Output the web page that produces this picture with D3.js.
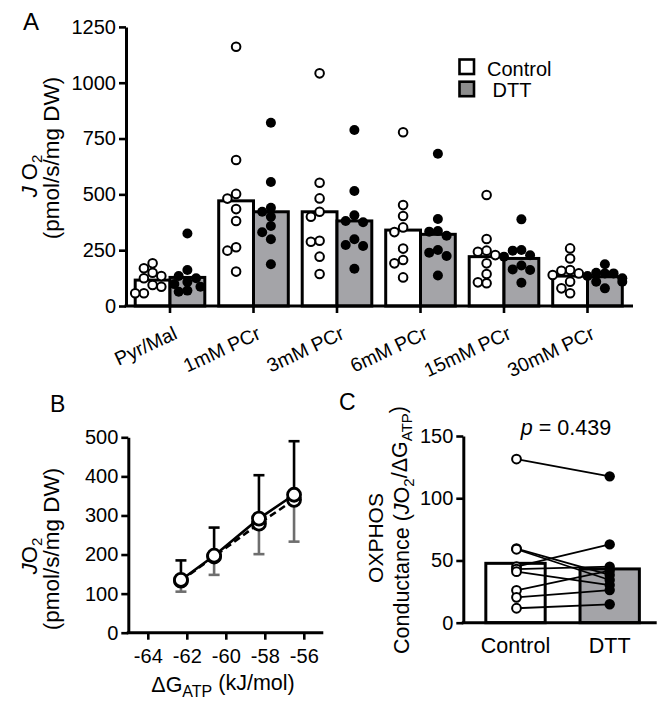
<!DOCTYPE html>
<html><head><meta charset="utf-8">
<script src="https://cdn.jsdelivr.net/npm/d3@7"></script>
<style>
body{margin:0;background:#fff}
svg text{font-family:"Liberation Sans",Arial,Helvetica,sans-serif;fill:#000}
</style>
</head><body>
<svg id="chart" width="670" height="703"></svg>
<script>
// ---------- Data ----------
const categories = ["Pyr/Mal","1mM PCr","3mM PCr","6mM PCr","15mM PCr","30mM PCr"];
const groups = ["Control","DTT"];
const controlMeans = [116,471,422,340,221,134];
const dttMeans = [128,422,381,321,213,131];
const controlPoints = [
  [191,169,149,134,124,94,86,57,57],
  [1161,654,502,481,434,381,263,248,154],
  [1042,552,482,422,400,292,288,221,143],
  [778,452,403,352,331,257,206,191,128],
  [497,300,248,243,228,191,143,106,102],
  [258,213,161,158,146,139,109,79,57]
];
const dttPoints = [
  [325,161,134,124,108,98,86,69,64],
  [821,555,440,422,400,358,330,299,187],
  [788,515,406,381,375,299,273,269,167],
  [682,390,336,333,315,251,239,224,137],
  [388,251,248,227,221,181,164,161,104],
  [187,149,146,146,134,124,109,109,79]
];
const yTicksA = [0,250,500,750,1000,1250];

const dgAtp = [-62.3,-60.6,-58.3,-56.5];
const bControlMean = [135,197,292,353];
const bControlSD = [50,72,111,137];
const bDttMean = [133,195,279,340];
const bDttSD = [28,47,78,107];
const xTicksB = [-64,-62,-60,-58,-56];
const yTicksB = [0,100,200,300,400,500];

const condMeans = [47.7,43.2];
const condControl = [131.5,59.5,59,45,43,41,26,20.4,11.6];
const condDtt = [117.6,38.4,34.3,62.9,45,30.2,41.8,26.2,14.8];
const yTicksC = [0,50,100,150];
const pText = "0.439";

// ---------- Styles ----------
const BAR_GRAY = "#a4a4a8";
const LEG_GRAY = "#8c8c8c";
const TICK_FS = 20;
const svg = d3.select("#chart");

function styleAxis(g, fs){
  g.selectAll(".domain").attr("stroke","#000").attr("stroke-width",3);
  g.selectAll(".tick line").attr("stroke","#000").attr("stroke-width",2.6);
  g.selectAll(".tick text").attr("font-size",fs).attr("fill","#000")
    .attr("font-family","'Liberation Sans',Arial,sans-serif");
}

function swarm(values, cx, yScale, step, D){
  const placed = [];
  const sorted = values.slice().sort((a,b)=>b-a);
  const offs = [0,-1,1,-1.5,1.5,-2,2];
  sorted.forEach(v=>{
    const y = yScale(v);
    for (const o of offs){
      const x = cx + o*step;
      if (placed.every(p => Math.hypot(p.x-x,p.y-y) >= D) || o===2){ placed.push({x,y,v}); break; }
    }
  });
  return placed;
}

// ---------- Panel A ----------
const yA = d3.scaleLinear().domain([0,1250]).range([306,26.9]);
const xA = d3.scaleBand().domain(categories).range([128.25,629.25]);
const xSub = d3.scaleBand().domain(groups).range([0,xA.bandwidth()]).paddingOuter(0.2);

const gA = svg.append("g");
categories.forEach((c,i)=>{
  [controlMeans[i], dttMeans[i]].forEach((m,j)=>{
    gA.append("rect")
      .attr("x", xA(c)+xSub(groups[j]))
      .attr("y", yA(m))
      .attr("width", xSub.bandwidth())
      .attr("height", yA(0)-yA(m))
      .attr("fill", j===0 ? "#fff" : BAR_GRAY)
      .attr("stroke","#000").attr("stroke-width",3);
  });
});
categories.forEach((c,i)=>{
  const cc = xA(c)+xSub("Control")+xSub.bandwidth()/2;
  const cd = xA(c)+xSub("DTT")+xSub.bandwidth()/2;
  swarm(controlPoints[i], cc, yA, 8.7, 8.6).forEach(p=>{
    gA.append("circle").attr("cx",p.x).attr("cy",p.y).attr("r",4.3)
      .attr("fill","#fff").attr("stroke","#000").attr("stroke-width",2);
  });
  swarm(dttPoints[i], cd, yA, 8.7, 8.6).forEach(p=>{
    gA.append("circle").attr("cx",p.x).attr("cy",p.y).attr("r",5)
      .attr("fill","#000");
  });
});

const yAxisA = svg.append("g").attr("transform","translate(126,0)")
  .call(d3.axisLeft(yA).tickValues(yTicksA).tickSize(7).tickSizeOuter(0).tickPadding(3)
    .tickFormat(d3.format("d")));
styleAxis(yAxisA, TICK_FS);

const xAxisA = svg.append("g").attr("transform",`translate(0,${yA(0)})`)
  .call(d3.axisBottom(xA).tickSize(7).tickSizeOuter(0));
styleAxis(xAxisA, 19.5);
xAxisA.select(".domain").attr("d", `M124.5,0H633`);
xAxisA.selectAll(".tick text")
  .attr("text-anchor","end").attr("x",0).attr("y",0).attr("dy",0)
  .attr("transform","translate(8.5,32) rotate(-25)");

// y title A
const tA1 = svg.append("text").attr("transform","translate(37,176) rotate(-90)")
  .attr("text-anchor","middle").attr("font-size",22);
tA1.append("tspan").attr("font-style","italic").text("J");
tA1.append("tspan").text(" O");
tA1.append("tspan").attr("font-size",15).attr("dy","0.3em").text("2");
svg.append("text").attr("transform","translate(59,158) rotate(-90)")
  .attr("text-anchor","middle").attr("font-size",22.5).text("(pmol/s/mg DW)");

// legend
const legItems = [{label:"Control",fill:"#fff"},{label:" DTT",fill:LEG_GRAY}];
legItems.forEach((d,i)=>{
  svg.append("rect").attr("x",459.5).attr("y",59.5+i*22.2).attr("width",14.5).attr("height",14.5)
    .attr("fill",d.fill).attr("stroke","#000").attr("stroke-width",2.6);
  svg.append("text").attr("x",487).attr("y",75.5+i*21.5).attr("font-size",20)
    .style("white-space","pre").text(d.label);
});

svg.append("text").attr("x",23).attr("y",30).attr("font-size",24).text("A");

// ---------- Panel B ----------
const xB = d3.scaleLinear().domain([-65,-55]).range([128.3,323.3]);
const yB = d3.scaleLinear().domain([0,500]).range([632.7,437.3]);
const gB = svg.append("g");
const lineB = d3.line().x((d,i)=>xB(dgAtp[i])).y(d=>yB(d));
bDttMean.forEach((m,i)=>{
  const x = xB(dgAtp[i]);
  gB.append("line").attr("x1",x).attr("x2",x).attr("y1",yB(m)).attr("y2",yB(m-bDttSD[i]))
    .attr("stroke","#6e6e6e").attr("stroke-width",2.6);
  gB.append("line").attr("x1",x-5.5).attr("x2",x+5.5).attr("y1",yB(m-bDttSD[i])).attr("y2",yB(m-bDttSD[i]))
    .attr("stroke","#6e6e6e").attr("stroke-width",2.6);
});
bControlMean.forEach((m,i)=>{
  const x = xB(dgAtp[i]);
  gB.append("line").attr("x1",x).attr("x2",x).attr("y1",yB(m)).attr("y2",yB(m+bControlSD[i]))
    .attr("stroke","#000").attr("stroke-width",2.6);
  gB.append("line").attr("x1",x-5.5).attr("x2",x+5.5).attr("y1",yB(m+bControlSD[i])).attr("y2",yB(m+bControlSD[i]))
    .attr("stroke","#000").attr("stroke-width",2.6);
});
gB.append("path").attr("d",lineB(bDttMean)).attr("fill","none").attr("stroke","#000")
  .attr("stroke-width",2.6).attr("stroke-dasharray","7,4");
gB.append("path").attr("d",lineB(bControlMean)).attr("fill","none").attr("stroke","#000")
  .attr("stroke-width",2.6);
bDttMean.forEach((m,i)=>{
  gB.append("circle").attr("cx",xB(dgAtp[i])).attr("cy",yB(m)).attr("r",6.5)
    .attr("fill","#fff").attr("stroke","#000").attr("stroke-width",2.8);
});
bControlMean.forEach((m,i)=>{
  gB.append("circle").attr("cx",xB(dgAtp[i])).attr("cy",yB(m)).attr("r",6.5)
    .attr("fill","#fff").attr("stroke","#000").attr("stroke-width",2.8);
});
const yAxisB = svg.append("g").attr("transform",`translate(${xB(-65)},0)`)
  .call(d3.axisLeft(yB).tickValues(yTicksB).tickSize(7).tickSizeOuter(0).tickPadding(3));
styleAxis(yAxisB, TICK_FS);
const xAxisB = svg.append("g").attr("transform",`translate(0,${yB(0)})`)
  .call(d3.axisBottom(xB).tickValues(xTicksB).tickSize(7).tickSizeOuter(0).tickPadding(9)
    .tickFormat(d=>String(d)));
styleAxis(xAxisB, TICK_FS);
xAxisB.select(".domain").attr("d",`M${xB(-65)-1.5},0H${xB(-55)}`);

const tB1 = svg.append("text").attr("transform","translate(37,556) rotate(-90)")
  .attr("text-anchor","middle").attr("font-size",22);
tB1.append("tspan").attr("font-style","italic").text("J");
tB1.append("tspan").text("O");
tB1.append("tspan").attr("font-size",15).attr("dy","0.3em").text("2");
svg.append("text").attr("transform","translate(59,549) rotate(-90)")
  .attr("text-anchor","middle").attr("font-size",22.5).text("(pmol/s/mg DW)");
const tBx = svg.append("text").attr("x",223).attr("y",692).attr("text-anchor","middle").attr("font-size",21.5);
tBx.append("tspan").text("ΔG");
tBx.append("tspan").attr("font-size",16).attr("dy","0.3em").text("ATP");
tBx.append("tspan").attr("dy","-0.3em").text(" (kJ/mol)");
svg.append("text").attr("x",50).attr("y",412).attr("font-size",23).text("B");

// ---------- Panel C ----------
const yC = d3.scaleLinear().domain([0,150]).range([622.7,436]);
const xC = d3.scaleBand().domain(groups).range([468.4,656.8]).paddingInner(0.37).paddingOuter(0.185);
const gC = svg.append("g");
condMeans.forEach((m,j)=>{
  gC.append("rect").attr("x",xC(groups[j])).attr("y",yC(m))
    .attr("width",xC.bandwidth()).attr("height",yC(0)-yC(m))
    .attr("fill", j===0 ? "#fff" : BAR_GRAY).attr("stroke","#000").attr("stroke-width",3);
});
const cxC = xC("Control")+xC.bandwidth()/2+1;
const cxD = xC("DTT")+xC.bandwidth()/2;
condControl.forEach((v,i)=>{
  gC.append("line").attr("x1",cxC).attr("x2",cxD).attr("y1",yC(v)).attr("y2",yC(condDtt[i]))
    .attr("stroke","#000").attr("stroke-width",1.8);
});
condControl.forEach(v=>{
  gC.append("circle").attr("cx",cxC).attr("cy",yC(v)).attr("r",4.4)
    .attr("fill","#fff").attr("stroke","#000").attr("stroke-width",2);
});
condDtt.forEach(v=>{
  gC.append("circle").attr("cx",cxD).attr("cy",yC(v)).attr("r",5.2).attr("fill","#000");
});
const yAxisC = svg.append("g").attr("transform","translate(463.3,0)")
  .call(d3.axisLeft(yC).tickValues(yTicksC).tickSize(7).tickSizeOuter(0).tickPadding(3));
styleAxis(yAxisC, TICK_FS);
const xAxisC = svg.append("g").attr("transform",`translate(0,${yC(0)})`)
  .call(d3.axisBottom(xC).tickSize(0).tickPadding(15));
styleAxis(xAxisC, 21.5);
xAxisC.select(".domain").attr("d","M461.8,0H656.7");

const pT = svg.append("text").attr("x",566).attr("y",435).attr("text-anchor","middle").attr("font-size",21.5);
pT.append("tspan").attr("font-style","italic").text("p");
pT.append("tspan").text(" = " + pText);

svg.append("text").attr("transform","translate(383,538) rotate(-90)")
  .attr("text-anchor","middle").attr("font-size",21).text("OXPHOS");
const tC2 = svg.append("text").attr("transform","translate(409,530) rotate(-90)")
  .attr("text-anchor","middle").attr("font-size",21.5);
tC2.append("tspan").text("Conductance (");
tC2.append("tspan").attr("font-style","italic").text("J");
tC2.append("tspan").text("O");
tC2.append("tspan").attr("font-size",15).attr("dy","0.3em").text("2");
tC2.append("tspan").attr("dy","-0.3em").text("/ΔG");
tC2.append("tspan").attr("font-size",15).attr("dy","0.3em").text("ATP");
tC2.append("tspan").attr("dy","-0.3em").text(")");
svg.append("text").attr("x",339).attr("y",410).attr("font-size",23).text("C");
</script>
</body></html>
